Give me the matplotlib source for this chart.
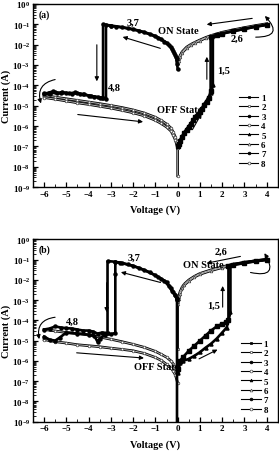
import matplotlib
matplotlib.use("Agg")
import matplotlib.pyplot as plt
from matplotlib.lines import Line2D
from matplotlib.patches import FancyArrowPatch
from matplotlib.ticker import LogLocator, NullFormatter, MultipleLocator
import numpy as np

plt.rcParams['font.family'] = ['Liberation Serif', 'DejaVu Serif']
plt.rcParams['font.weight'] = 'bold'
plt.rcParams['mathtext.default'] = 'regular'

# ---- panel (a): voltage (V) and log10 of current (A) for the 8 sweeps ----
A1_V = [0.0, 0.05, 0.1, 0.2, 0.3, 0.4, 0.5, 0.6, 0.7, 0.8, 0.9, 1.0, 1.1, 1.2, 1.3, 1.4, 1.48, 1.48,
        1.75, 2.0, 2.5, 3.0, 3.5, 4.0]
A1_LOG = [-7.0, -6.9, -6.75, -6.55, -6.35, -6.2, -6.05, -5.9, -5.7, -5.55, -5.45, -5.3, -5.15, -4.95,
          -4.8, -4.6, -4.3, -1.62, -1.53, -1.46, -1.34, -1.23, -1.12, -1.03]
A5_V = [0.02, 0.1, 0.2, 0.3, 0.4, 0.5, 0.6, 0.7, 0.8, 0.9, 1.0, 1.1, 1.2, 1.3, 1.4, 1.5, 1.58, 1.58,
        2.0, 2.5, 3.0, 3.5, 4.0]
A5_LOG = [-6.95, -6.7, -6.5, -6.3, -6.15, -6.0, -5.85, -5.68, -5.5, -5.4, -5.25, -5.1, -4.9, -4.75,
          -4.55, -4.4, -4.0, -1.58, -1.45, -1.33, -1.22, -1.11, -1.02]
A2_V = [4.0, 3.5, 3.0, 2.5, 2.0, 1.5, 1.25, 1.0, 0.8, 0.6, 0.4, 0.2, 0.1, 0.05, 0.0]
A2_LOG = [-0.97, -1.06, -1.16, -1.27, -1.39, -1.55, -1.65, -1.77, -1.87, -1.98, -2.12, -2.35, -2.55,
          -2.72, -2.82]
A6_LOG = [-1.0, -1.09, -1.19, -1.3, -1.42, -1.58, -1.68, -1.8, -1.9, -2.02, -2.17, -2.4, -2.6, -2.78, -2.9]
A3_V = [0.0, -0.05, -0.1, -0.2, -0.3, -0.5, -0.75, -1.0, -1.5, -2.0, -2.5, -3.0, -3.35, -3.35, -3.5,
        -3.75, -4.0, -4.25, -4.5, -4.75, -5.0, -5.25, -5.5, -5.75, -6.0]
A3_LOG = [-3.2, -2.7, -2.5, -2.3, -2.12, -1.9, -1.72, -1.57, -1.38, -1.24, -1.14, -1.06, -1.0, -4.62,
          -4.6, -4.55, -4.5, -4.45, -4.38, -4.42, -4.37, -4.4, -4.35, -4.42, -4.4]
A7_V = [-0.02, -0.08, -0.15, -0.25, -0.4, -0.6, -0.9, -1.25, -1.75, -2.25, -2.75, -3.0, -3.22, -3.22,
        -3.4, -3.6, -3.9, -4.2, -4.4, -4.6, -4.9, -5.2, -5.4, -5.6, -5.8, -6.0]
A7_LOG = [-2.95, -2.6, -2.42, -2.22, -2.03, -1.85, -1.66, -1.49, -1.32, -1.2, -1.11, -1.08, -1.03, -4.65,
          -4.6, -4.58, -4.52, -4.45, -4.42, -4.35, -4.4, -4.33, -4.38, -4.3, -4.36, -4.42]
A4_V = [-6.0, -5.5, -5.0, -4.5, -4.0, -3.5, -3.0, -2.5, -2.0, -1.5, -1.0, -0.75, -0.5, -0.3, -0.2, -0.1,
        -0.05, 0.0, 0.0]
A4_LOG = [-4.5, -4.58, -4.66, -4.74, -4.82, -4.9, -4.99, -5.09, -5.21, -5.36, -5.57, -5.72, -5.9, -6.1,
          -6.3, -6.55, -6.75, -6.95, -8.45]
A8_V = [-6.0, -5.5, -5.0, -4.5, -4.0, -3.5, -3.0, -2.5, -2.0, -1.5, -1.0, -0.75, -0.5, -0.3, -0.2, -0.1,
        -0.05, 0.0]
A8_LOG = [-4.6, -4.68, -4.77, -4.86, -4.94, -5.03, -5.12, -5.23, -5.35, -5.5, -5.72, -5.87, -6.05, -6.25,
          -6.45, -6.7, -6.9, -7.1]

# ---- panel (b) ----
B1_V = [0.0, 0.1, 0.25, 0.5, 0.75, 1.0, 1.25, 1.5, 1.75, 2.0, 2.15, 2.28, 2.28, 2.5, 3.0, 3.5, 4.0]
B1_LOG = [-6.4, -6.0, -5.8, -5.5, -5.25, -5.0, -4.75, -4.5, -4.3, -4.17, -4.1, -4.0, -1.3, -1.25, -1.15,
          -1.07, -1.0]
B5_V = [0.02, 0.1, 0.25, 0.5, 0.75, 1.0, 1.25, 1.5, 1.75, 2.0, 2.2, 2.37, 2.37, 2.5, 3.0, 3.5, 4.0]
B5_LOG = [-6.6, -6.1, -6.0, -5.9, -5.75, -5.57, -5.35, -5.15, -4.9, -4.6, -4.35, -3.6, -1.27, -1.23,
          -1.13, -1.05, -0.98]
B2_V = [4.0, 3.5, 3.0, 2.5, 2.0, 1.5, 1.0, 0.75, 0.5, 0.3, 0.2, 0.1, 0.05, 0.0, 0.0]
B2_LOG = [-0.98, -1.05, -1.13, -1.22, -1.35, -1.5, -1.68, -1.82, -2.0, -2.2, -2.35, -2.6, -2.85, -3.1,
          -5.4]
B6_V = [4.0, 3.5, 3.0, 2.5, 2.0, 1.5, 1.0, 0.75, 0.5, 0.3, 0.2, 0.1, 0.05, 0.0]
B6_LOG = [-1.01, -1.08, -1.17, -1.26, -1.39, -1.54, -1.72, -1.86, -2.05, -2.25, -2.42, -2.68, -2.95, -3.2]
B3_V = [-0.03, -0.03, -0.05, -0.1, -0.2, -0.3, -0.5, -0.75, -1.0, -1.5, -2.0, -2.5, -2.8, -3.15, -3.15,
        -3.4, -3.6, -3.8, -4.0, -4.25, -4.5, -4.75, -5.0, -5.25, -5.5, -5.75, -6.0]
B3_LOG = [-9.5, -3.0, -2.9, -2.75, -2.6, -2.4, -2.1, -1.93, -1.77, -1.52, -1.3, -1.17, -1.1, -1.07, -4.62,
          -4.6, -4.65, -4.55, -4.5, -4.5, -4.45, -4.4, -4.38, -4.35, -4.3, -4.4, -4.45]
B7_V = [-0.05, -0.12, -0.25, -0.4, -0.6, -0.9, -1.25, -1.75, -2.25, -2.6, -2.8, -2.8, -2.8, -3.0, -3.25,
        -3.5, -3.6, -3.75, -4.0, -4.5, -5.0, -5.3, -5.5, -5.75, -6.0]
B7_LOG = [-2.95, -2.72, -2.55, -2.3, -2.05, -1.85, -1.62, -1.4, -1.23, -1.14, -1.12, -1.73, -4.62, -4.68,
          -4.7, -4.9, -5.05, -4.75, -4.7, -4.65, -4.6, -4.85, -5.0, -4.95, -4.8]
B4_V = [-6.0, -5.5, -5.0, -4.5, -4.0, -3.5, -3.0, -2.5, -2.0, -1.5, -1.0, -0.75, -0.5, -0.3, -0.2, -0.1, 0.0]
B4_LOG = [-4.45, -4.52, -4.6, -4.65, -4.72, -4.82, -4.93, -5.05, -5.18, -5.33, -5.53, -5.67, -5.82, -6.0,
          -6.15, -6.35, -6.6]
B8_V = [-6.0, -5.5, -5.0, -4.5, -4.0, -3.5, -3.0, -2.5, -2.0, -1.5, -1.0, -0.75, -0.5, -0.3, -0.2, -0.1, 0.0]
B8_LOG = [-4.95, -5.05, -5.12, -5.2, -5.25, -5.3, -5.37, -5.43, -5.5, -5.63, -5.83, -5.97, -6.17, -6.35,
          -6.5, -6.7, -7.1]

LABELS = ['1', '2', '3', '4', '5', '6', '7', '8']
MARKERS = ['s', 's', 'o', 'o', '^', '^', 'o', 'o']
FILLED = [True, False, True, False, True, False, True, False]


def draw_sweep(ax, v, logi, marker, filled):
    i = 10 ** np.array(logi)
    if filled:
        ax.plot(v, i, color='k', lw=1.9, marker=marker, ms=2.2, mfc='k', mec='k', zorder=3)
    else:
        ax.plot(v, i, color='k', lw=1.9, zorder=2)
        ax.plot(v, i, color='0.7', lw=0.7, marker=marker, ms=1.9, mfc='white', mec='0.25',
                mew=0.5, zorder=2.5)


def arrow(ax, p0, p1, rad=0.0):
    a = FancyArrowPatch((p0[0], 10 ** p0[1]), (p1[0], 10 ** p1[1]),
                        connectionstyle=f"arc3,rad={rad}", arrowstyle='-|>',
                        mutation_scale=6, lw=0.8, color='k', zorder=4)
    ax.add_patch(a)


def setup(ax):
    ax.set_yscale('log')
    ax.set_xlim(-6.5, 4.5)
    ax.set_ylim(1e-9, 1e0)
    ax.set_xticks(range(-6, 5))
    ax.xaxis.set_minor_locator(MultipleLocator(0.5))
    ax.yaxis.set_major_locator(LogLocator(base=10, numticks=12))
    ax.yaxis.set_minor_locator(LogLocator(base=10, subs=np.arange(2, 10), numticks=12))
    ax.yaxis.set_minor_formatter(NullFormatter())
    ax.tick_params(which='both', direction='in', labelsize=6.5, pad=2)
    ax.tick_params(which='major', length=3.5, width=0.9)
    ax.tick_params(which='minor', length=2, width=0.6)
    for s in ax.spines.values():
        s.set_linewidth(1.0)
    ax.set_xlabel('Voltage (V)', fontsize=7.5, fontweight='bold', labelpad=5)
    ax.set_ylabel('Current (A)', fontsize=7.5, fontweight='bold', labelpad=1)


def legend(ax, anchor):
    handles = [Line2D([], [], color='k', lw=0.8, marker=m, ms=2.0,
                      mfc='k' if f else 'white', mec='k' if f else '0.3', mew=0.5)
               for m, f in zip(MARKERS, FILLED)]
    ax.legend(handles, LABELS, loc='upper right', bbox_to_anchor=anchor, frameon=False,
              handlelength=2.2, handletextpad=0.3, labelspacing=0.12, borderaxespad=0,
              prop={'family': 'Liberation Serif', 'weight': 'bold', 'size': 6.5})


fig = plt.figure(figsize=(2.79, 4.52), dpi=100)
ax1 = fig.add_axes([0.118, 0.584, 0.878, 0.405])
ax2 = fig.add_axes([0.118, 0.065, 0.878, 0.403])

txt = dict(fontsize=7.5, fontweight='bold', ha='center', va='center', zorder=5)

# panel (a)
setup(ax1)
a_series = [(A1_V, A1_LOG), (A2_V, A2_LOG), (A3_V, A3_LOG), (A4_V, A4_LOG),
            (A5_V, A5_LOG), (A2_V, A6_LOG), (A7_V, A7_LOG), (A8_V, A8_LOG)]
for (v, li), m, f in zip(a_series, MARKERS, FILLED):
    draw_sweep(ax1, v, li, m, f)
ax1.text(-6.26, 10 ** -0.49, '(a)', fontsize=7, fontweight='bold', ha='left', va='center')
ax1.text(-2.0, 10 ** -0.9, '3,7', **txt)
ax1.text(0.02, 10 ** -1.28, 'ON State', **txt)
ax1.text(2.67, 10 ** -1.69, '2,6', **txt)
ax1.text(2.05, 10 ** -3.28, '1,5', **txt)
ax1.text(-2.86, 10 ** -4.1, '4,8', **txt)
ax1.text(0.1, 10 ** -5.17, 'OFF State', **txt)
arrow(ax1, (3.47, -0.69), (1.18, -1.03))
arrow(ax1, (-0.66, -2.22), (-2.59, -1.58))
arrow(ax1, (-3.63, -1.87), (-3.63, -3.94))
arrow(ax1, (1.31, -3.84), (1.31, -2.46))
arrow(ax1, (-4.61, -5.42), (-1.43, -5.81))
arrow(ax1, (0.6, -6.3), (1.13, -5.27))
arrow(ax1, (3.38, -1.63), (3.83, -0.49), rad=1.25)
arrow(ax1, (-5.38, -3.69), (-6.1, -5.02), rad=0.6)
legend(ax1, (0.965, 0.53))

# panel (b)
setup(ax2)
b_series = [(B1_V, B1_LOG), (B2_V, B2_LOG), (B3_V, B3_LOG), (B4_V, B4_LOG),
            (B5_V, B5_LOG), (B6_V, B6_LOG), (B7_V, B7_LOG), (B8_V, B8_LOG)]
for (v, li), m, f in zip(b_series, MARKERS, FILLED):
    draw_sweep(ax2, v, li, m, f)
ax2.text(-6.26, 10 ** -0.46, '(b)', fontsize=7, fontweight='bold', ha='left', va='center')
ax2.text(-1.95, 10 ** -0.89, '3,7', **txt)
ax2.text(1.15, 10 ** -1.22, 'ON State', **txt)
ax2.text(1.93, 10 ** -0.56, '2,6', **txt)
ax2.text(1.6, 10 ** -3.23, '1,5', **txt)
ax2.text(-4.72, 10 ** -4.06, '4,8', **txt)
ax2.text(-0.95, 10 ** -6.29, 'OFF State', **txt)
arrow(ax2, (2.94, -0.81), (1.18, -1.2))
arrow(ax2, (-0.65, -2.16), (-2.67, -1.58))
arrow(ax2, (-3.19, -2.0), (-3.19, -3.73))
arrow(ax2, (2.02, -3.48), (2.02, -2.16))
arrow(ax2, (-4.66, -5.59), (-1.39, -5.87))
arrow(ax2, (0.85, -5.96), (1.9, -5.38))
arrow(ax2, (3.15, -1.6), (3.83, -0.56), rad=1.25)
arrow(ax2, (-5.38, -3.83), (-6.19, -5.06), rad=0.6)
legend(ax2, (0.975, 0.47))

fig.savefig('out.png', dpi=100)
